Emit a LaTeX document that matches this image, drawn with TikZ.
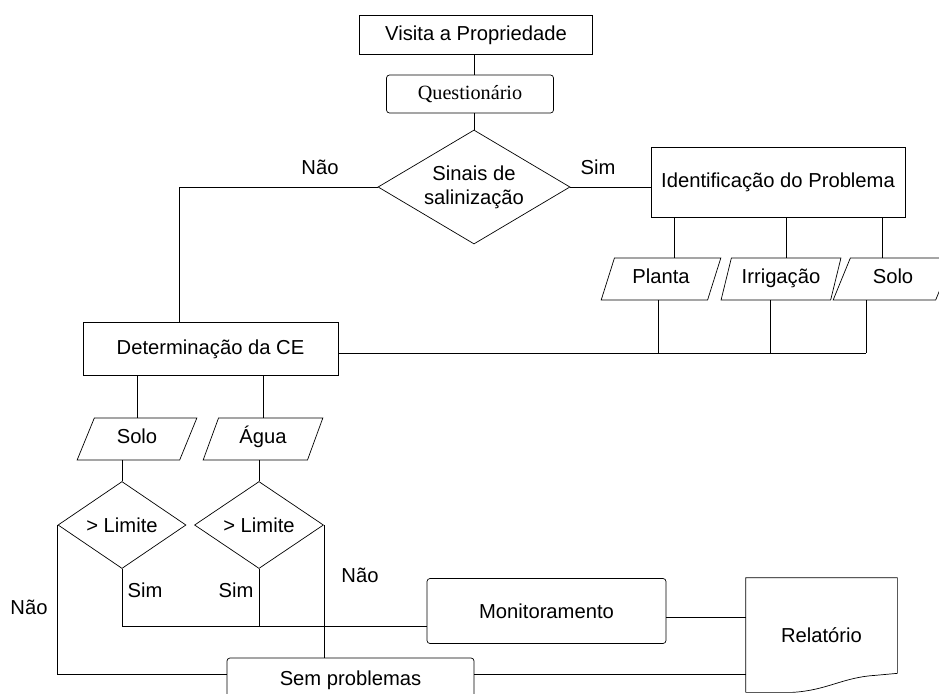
\documentclass[tikz,border=0pt]{standalone}
\usepackage{fontspec}
\setmainfont{Liberation Sans}
\newfontfamily\myserif{Liberation Serif}
\usepackage{tikz}
\usetikzlibrary{
  shapes.geometric, % Shapes "trapezium", "diamond"
  positioning,
  calc,             % Calculations $...$
}
\def\mypx{0.02cm}
\tikzset{
  font=\fontsize{11.5}{13.5}\selectfont,
  line width=0.6pt,
  my box/.style={
    draw,
    rectangle,
    inner sep=0mm
  },
  my rbox/.style={
    my box,
    rounded corners=0.6mm
  },
  my data/.style={
    draw,
    trapezium,
    trapezium left angle=64,
    trapezium right angle=116,
    trapezium stretches=true,
    minimum width=120*\mypx,
    minimum height=42*\mypx,
    text height=0.75em,
    text depth=0.2em,
    inner sep=0mm
  },
  my decision/.style={
    draw,
    diamond,
    inner sep=0mm
  },
  my label/.style={
    inner sep=0mm
  },
  flow/.style={
    x=\mypx,
    y=-\mypx
  }
}

\begin{document}
\begin{tikzpicture}[flow]
\useasboundingbox (0,0) rectangle (939,693);
\clip (0,0) rectangle (939,693);
% Top of the chart
\node[my box,minimum width=233*\mypx,minimum height=39*\mypx] (visita) at (476,35) {Visita a Propriedade};
\node[my rbox,minimum width=167*\mypx,minimum height=38*\mypx] (quest) at (470,94) {\myserif Questionário};
\node[my decision,aspect=1.7,minimum width=192*\mypx,minimum height=114*\mypx,align=center] (sinais) at (474,187) {Sinais de\\salinização};
\draw (visita.south -| sinais.north) -- (quest.north -| sinais.north);
\draw (quest.south -| sinais.north) -- (sinais.north);
\node[my label] (naoS) at (320,167) {Não};
\node[my label] (simS) at (598,167) {Sim};
% Identification of the problem
\node[my box,minimum width=254*\mypx,minimum height=70*\mypx] (ident) at (778,182) {Identificação do Problema};
\draw (sinais.east) -- (sinais.east -| ident.west);
\node[my data] (planta) at (661,279) {Planta};
\node[my data] (irrig)  at (781,279) {Irrigação};
\node[my data] (solob)  at (893,279) {Solo};
\foreach \n/\dx in {planta/13,irrig/5,solob/-11}
  \draw ([xshift=\dx*\mypx]\n.north) -- ([xshift=\dx*\mypx]\n.north |- ident.south);
% Determination of CE
\node[my box,minimum width=255*\mypx,minimum height=53*\mypx] (determ) at (210.5,349) {Determinação da CE};
\coordinate (naoL) at (179,187);
\draw (sinais.west) -- (naoL) -- (naoL |- determ.north);
\coordinate (bus) at (866,353);
\draw (determ.east |- bus) -- (bus);
\foreach \n/\dx in {planta/-3,irrig/-11,solob/-27}
  \draw ([xshift=\dx*\mypx]\n.south) -- ([xshift=\dx*\mypx]\n.south |- bus);
\node[my data] (solo) at (137,439) {Solo};
\node[my data] (agua) at (263,439) {Água};
\draw (determ.south -| solo.north) -- (solo.north);
\draw (determ.south -| agua.north) -- (agua.north);
% Limits
\node[my decision,aspect=1.47,minimum width=128*\mypx,minimum height=87*\mypx] (limS) at (122,525) {> Limite};
\node[my decision,aspect=1.47,minimum width=129*\mypx,minimum height=87*\mypx] (limA) at (259,525) {> Limite};
\draw (solo.south -| limS.north) -- (limS.north);
\draw (agua.south -| limA.north) -- (limA.north);
\node[my label] (simL) at (145,590) {Sim};
\node[my label] (simA) at (236,590) {Sim};
\node[my label] (naoA) at (360,575) {Não};
\node[my label] (naoB) at (29,607)  {Não};
% Results
\node[my rbox,minimum width=239*\mypx,minimum height=65*\mypx] (monit) at (546.5,611) {Monitoramento};
\node[my rbox,minimum width=247*\mypx,minimum height=44*\mypx] (semprob) at (350.5,680) {Sem problemas};
\node[minimum width=151*\mypx,minimum height=114*\mypx,inner sep=0mm] (relat) at (821.5,635) {Relatório};
\draw (relat.south west) -- (relat.north west) -- (relat.north east)
  -- ($(relat.south east)+(0,-19)$) -- ($(relat.south east)+(-22,-17)$)
  .. controls ($(relat.south east)+(-55,-15)$) and ($(relat.south east)+(-70,-2)$) .. ($(relat.south east)+(-105,0)$)
  -- (relat.south west);
\coordinate (simbus) at (122,626);
\draw (limS.south) -- (simbus) -- (simbus -| monit.west);
\draw (limA.south) -- (limA.south |- simbus);
\draw (limS.west) |- ([yshift=6*\mypx]semprob.west);
\draw (limA.east) -- (limA.east |- semprob.north);
\draw ([yshift=-6*\mypx]monit.east) -- ([yshift=-6*\mypx]monit.east -| relat.west);
\draw ([yshift=6*\mypx]semprob.east) -- ([yshift=6*\mypx]semprob.east -| relat.west);
\end{tikzpicture}
\end{document}
